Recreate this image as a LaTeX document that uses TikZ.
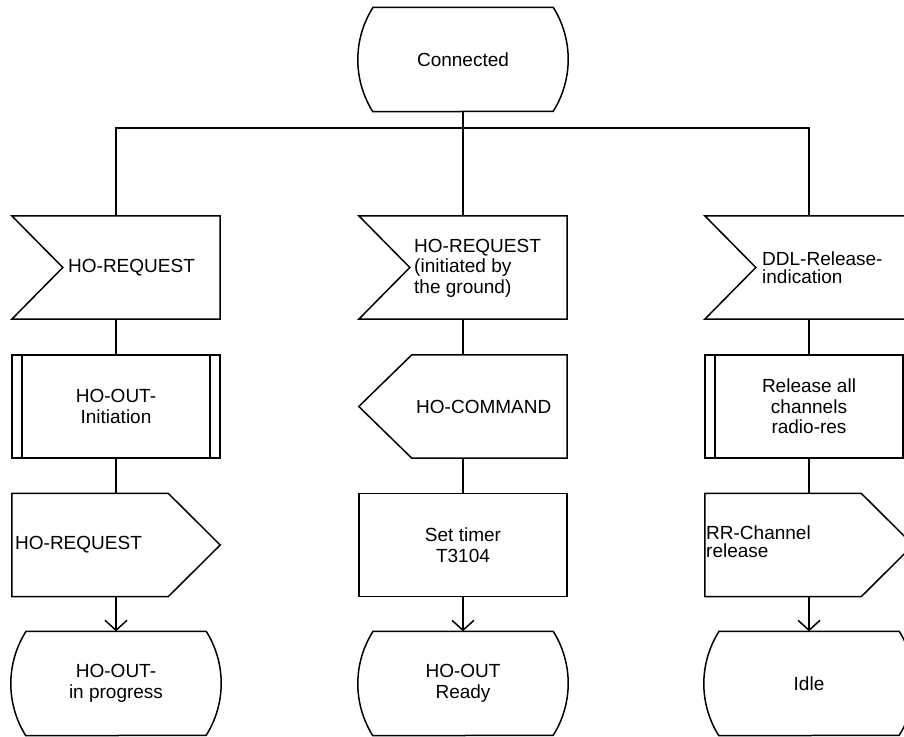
\documentclass[tikz,border=0pt]{standalone}
\usepackage{fontspec}
\setmainfont{Liberation Sans}
\usetikzlibrary{calc,arrows.meta}
\tikzset{
  box/.style={minimum width=208pt, minimum height=103pt, inner sep=0pt, draw=none,
    font=\fontsize{19}{20.5}\selectfont, align=center},
  statebox/.style={box, minimum width=210pt, minimum height=104pt},
  ltxt/.style={font=\fontsize{19}{20.5}\selectfont, inner sep=0pt, align=left, anchor=west},
  outline/.style={line width=1.5pt, line join=miter},
  flow/.style={line width=1.5pt},
  arr/.style={flow, -{Straight Barb[length=10pt,width=22pt,line width=1.5pt]}},
}
\newcommand\sdlstate[1]{\draw[outline] ($(#1.north west)+(15,0)$) -- ($(#1.north east)+(-15,0)$)
  arc[start angle=32.18, end angle=-32.18, radius=97.63] -- ($(#1.south west)+(15,0)$)
  arc[start angle=212.18, end angle=147.82, radius=97.63] -- cycle;}
\newcommand\sdlinput[1]{\draw[outline] (#1.north west) -- (#1.north east) -- (#1.south east)
  -- (#1.south west) -- ($(#1.west)+(51,0)$) -- cycle;}
\newcommand\sdloutright[1]{\draw[outline] (#1.north west) -- ($(#1.north east)+(-52,0)$) -- (#1.east)
  -- ($(#1.south east)+(-52,0)$) -- (#1.south west) -- cycle;}
\newcommand\sdloutleft[1]{\draw[outline] ($(#1.north west)+(53,0)$) -- (#1.north east) -- (#1.south east)
  -- ($(#1.south west)+(53,0)$) -- (#1.west) -- cycle;}
\newcommand\sdltask[1]{\draw[outline] (#1.north west) rectangle (#1.south east);}
\newcommand\sdlproc[1]{\draw[outline] (#1.north west) rectangle (#1.south east);
  \draw[outline] ($(#1.north west)+(10,0)$) -- ($(#1.south west)+(10,0)$);
  \draw[outline] ($(#1.north east)+(-10,0)$) -- ($(#1.south east)+(-10,0)$);}
\begin{document}
\begin{tikzpicture}[x=1pt,y=1pt]
\useasboundingbox (0,0) rectangle (904,-736);
\clip (0,0) rectangle (904,-736);
% top state
\node[statebox] (c0) at (463,-59.5) {Connected};
\sdlstate{c0}
% left column
\node[box] (a1) at (116,-267.5) {};
\node[box] (a2) at (116,-406.5) {HO-OUT-\\Initiation};
\node[box] (a3) at (116,-545) {};
\node[statebox] (a4) at (116,-683.5) {HO-OUT-\\in progress};
% middle column
\node[box] (b1) at (463,-267.5) {};
\node[box] (b2) at (463,-406.5) {};
\node[box] (b3) at (463,-545) {Set timer\\T3104};
\node[statebox] (b4) at (463,-683.5) {HO-OUT\\Ready};
% right column
\node[box] (d1) at (809,-267.5) {};
\node[box] (d2) at (809,-406.5) {Release all\\channels\\radio-res};
\node[box] (d3) at (809,-545) {};
\node[statebox] (d4) at (809,-683.5) {Idle};
% outlines
\sdlinput{a1} \sdlproc{a2} \sdloutright{a3} \sdlstate{a4}
\sdlinput{b1} \sdloutleft{b2} \sdltask{b3} \sdlstate{b4}
\sdlinput{d1} \sdlproc{d2} \sdloutright{d3} \sdlstate{d4}
% left aligned texts
\node[ltxt] (ta1) at (68,-268) {HO-REQUEST};
\node[ltxt] (ta3) at (15,-545) {HO-REQUEST};
\node[ltxt] (tb1) at (414,-268) {HO-REQUEST\\(initiated by\\the ground)};
\node[ltxt] (tb2) at (416,-406.5) {HO-COMMAND};
\node[ltxt, font=\fontsize{19}{17.5}\selectfont] (td1) at (762,-267.5) {DDL-Release-\\indication};
\node[ltxt, font=\fontsize{19}{17.5}\selectfont] (td3) at (706,-541.5) {RR-Channel\\release};
% connectors
\coordinate (bus) at (463,-128);
\draw[flow] (c0.south) -- (bus);
\draw[flow] (a1.north) |- (bus) -| (d1.north);
\draw[flow] (bus) -- (b1.north);
\draw[flow] (a1.south) -- (a2.north);
\draw[flow] (a2.south) -- (a3.north);
\draw[arr] (a3.south) -- (a4.north);
\draw[flow] (b1.south) -- (b2.north);
\draw[flow] (b2.south) -- (b3.north);
\draw[arr] (b3.south) -- (b4.north);
\draw[flow] (d1.south) -- (d2.north);
\draw[flow] (d2.south) -- (d3.north);
\draw[arr] (d3.south) -- (d4.north);
\end{tikzpicture}
\end{document}
